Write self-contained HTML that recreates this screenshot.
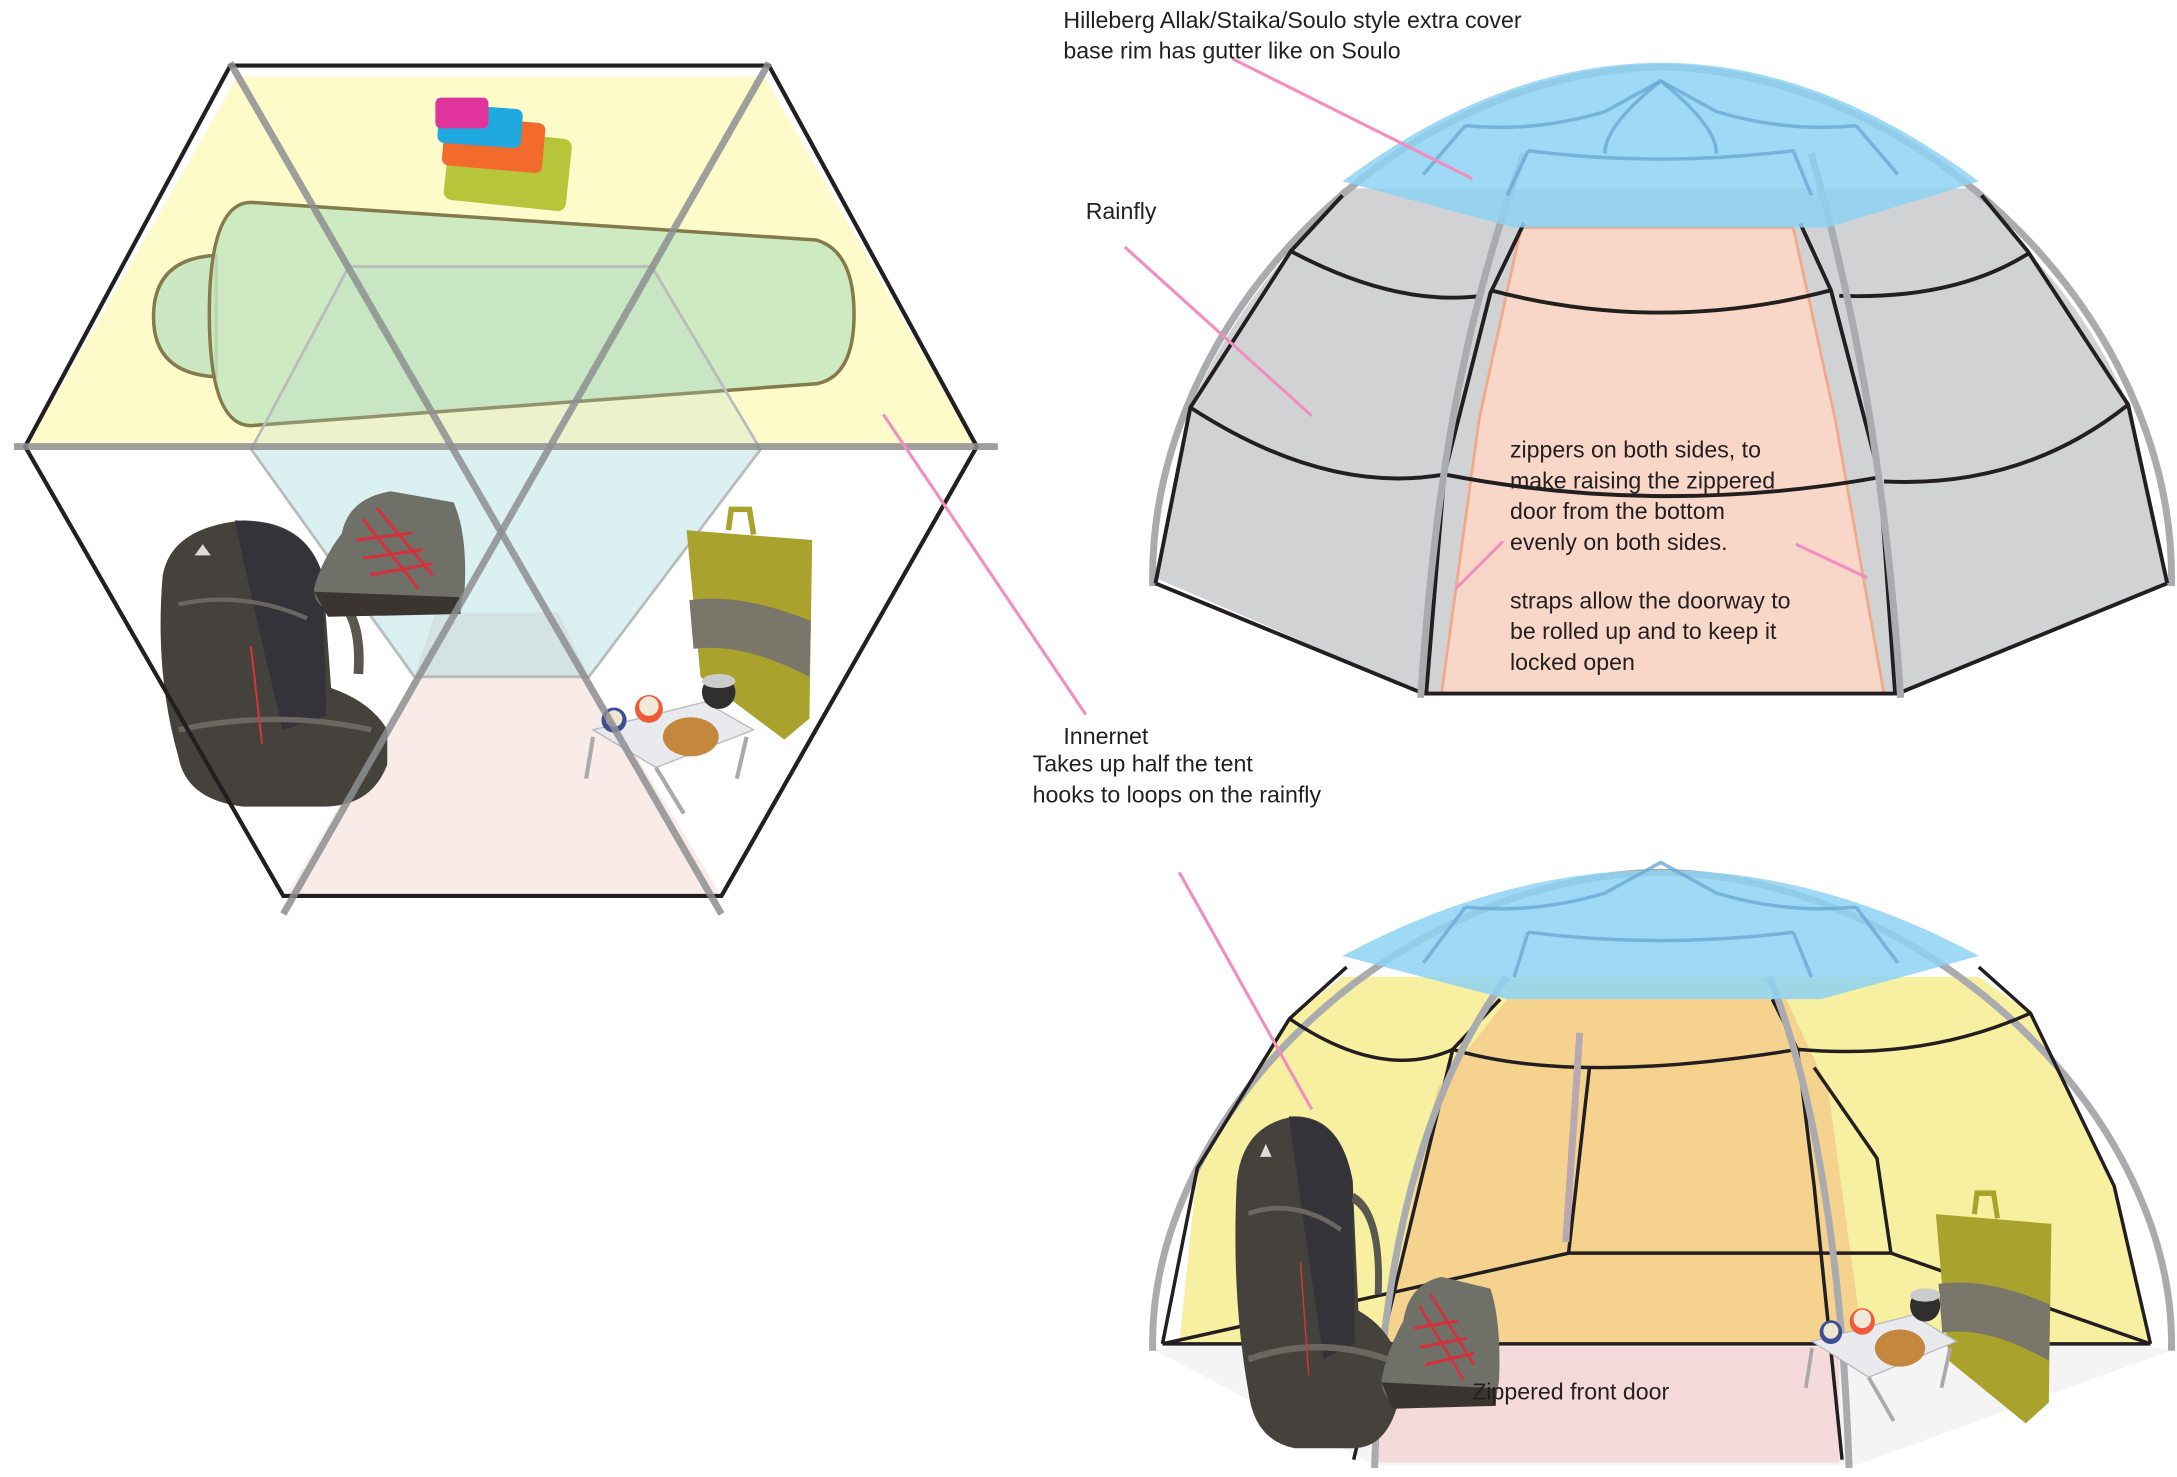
<!DOCTYPE html>
<html><head><meta charset="utf-8"><style>
html,body{margin:0;padding:0;background:#fff;}
svg{display:block;}
text{font-family:"Liberation Sans",sans-serif;font-size:16.6px;fill:#231f20;}
</style></head><body>
<svg width="2177" height="1477" viewBox="0 0 1560 1058.4" preserveAspectRatio="none" xmlns="http://www.w3.org/2000/svg">
<defs>
<g id="pack">
 <path d="M10,40 Q15,5 60,0 Q100,0 110,40 L115,120 Q140,130 150,150 L150,175 Q140,205 110,205 L60,205 Q25,200 20,170 Q5,110 10,40 Z" fill="#45423d"/>
 <path d="M55,0 Q100,0 110,40 L112,140 L85,150 Q70,80 55,0 Z" fill="#34333a"/>
 <path d="M20,60 Q60,50 100,70" stroke="#6a6660" stroke-width="3" fill="none"/>
 <path d="M20,150 Q80,135 140,150" stroke="#6a6660" stroke-width="4" fill="none"/>
 <path d="M110,50 Q135,60 132,110" stroke="#5a5650" stroke-width="6" fill="none"/>
 <path d="M65,90 L72,160" stroke="#d33" stroke-width="1.2"/>
 <path d="M30,25 l5,-8 l5,8 z" fill="#ddd"/>
</g>
<g id="boot">
 <path d="M20,30 Q25,5 55,0 L100,8 Q110,30 108,70 L105,85 L20,88 Q0,85 0,70 Q5,50 20,30 Z" fill="#6f7068"/>
 <path d="M0,72 L105,76 L105,88 L10,90 Z" fill="#3a3530"/>
 <path d="M35,20 L75,70 M45,12 L85,60 M30,35 L70,30 M35,48 L78,42 M40,60 L85,52" stroke="#d2323c" stroke-width="2.2" fill="none"/>
</g>
<g id="chair">
 <path d="M10,15 L100,22 L98,150 L80,165 L20,120 Z" fill="#a9a22d"/>
 <path d="M12,65 Q50,60 99,80 L98,120 Q50,95 15,100 Z" fill="#7b766a"/>
 <path d="M40,15 L42,0 L55,0 L58,18" stroke="#a9a22d" stroke-width="4" fill="none"/>
</g>
<g id="table">
 <path d="M15,35 L95,15 L130,35 L60,62 Z" fill="#e8eaed" stroke="#bbb" stroke-width="1"/>
 <path d="M15,40 L10,70 M60,62 L80,95 M125,40 L118,70" stroke="#aaa" stroke-width="3"/>
 <circle cx="30" cy="28" r="9" fill="#3b4e92"/><circle cx="30" cy="27" r="6" fill="#efe4cf"/>
 <circle cx="55" cy="20" r="10" fill="#f05a3a"/><circle cx="55" cy="18" r="7" fill="#f2ead8"/>
 <ellipse cx="85" cy="40" rx="20" ry="14" fill="#c3873e"/>
 <circle cx="105" cy="8" r="12" fill="#2f2f2f"/><ellipse cx="105" cy="0" rx="12" ry="5" fill="#ccc"/>
</g>
</defs>

<path d="M170,55 L548,55 L700,322 L18,322 Z" fill="#fefbcb"/>
<path d="M180,322 L545,322 L422,485 L297,485 Z" fill="#e6f7fd"/>
<path d="M312,439 L400,439 L422,485 L297,485 Z" fill="#dfe4e8"/>
<path d="M297,485 L422,485 L517,642 L205,642 Z" fill="#f9ece8"/>
<path d="M110,227 Q110,185 155,183 L155,270 Q110,268 110,227 Z" fill="#cbe8c2" stroke="#867a4c" stroke-width="2.5"/>
<path d="M180,145 L585,172 Q612,180 612,225 Q612,270 585,275 L180,305 Q150,305 150,225 Q150,145 180,145 Z" fill="#c6e6c0" fill-opacity="0.85" stroke="#867a4c" stroke-width="2.5"/>
<path d="M250,191 L467,191 L545,322 L422,485 L297,485 L180,322 Z" fill="#b8dcd0" fill-opacity="0.25" stroke="#b9bbbd" stroke-width="2"/>
<rect x="320" y="95" width="88" height="52" rx="6" fill="#b7c53b" transform="rotate(6 360 120)"/>
<rect x="318" y="85" width="72" height="36" rx="5" fill="#f26a2c" transform="rotate(5 350 100)"/>
<rect x="314" y="76" width="60" height="28" rx="5" fill="#1fa9df" transform="rotate(4 340 90)"/>
<rect x="312" y="70" width="38" height="22" rx="4" fill="#e0339b"/>
<use href="#pack" transform="translate(105,373) scale(1.15,1.0)"/>
<use href="#boot" transform="translate(225,352) scale(1.0,1.0)"/>
<use href="#chair" transform="translate(482,365)"/>
<use href="#table" transform="translate(410,488)"/>
<path d="M165,47 L551,47 L700,320 L517,642 L203,642 L18,320 Z" fill="none" stroke="#231f20" stroke-width="3"/>
<g stroke="#8d8e90" stroke-width="5" stroke-opacity="0.85">
<line x1="10" y1="320" x2="715" y2="320"/>
<line x1="165" y1="45" x2="517" y2="655"/>
<line x1="551" y1="45" x2="203" y2="655"/>
</g>

<path d="M830,415 L853,292 Q880,230 925,180 L962,135 L1418,135 L1453,180 Q1500,230 1525,290 L1553,418 L1360,497 L1020,497 Z" fill="#d1d2d4"/>
<path d="M1033,497 L1060,300 L1090,163 L1285,163 L1315,300 L1350,497 Z" fill="#f8d7c8" stroke="#f2a98a" stroke-width="2"/>
<path d="M826,420 C822,230 1000,52 1190,48 C1380,52 1560,230 1556,420" fill="none" stroke="#a9abae" stroke-width="5"/>
<g fill="none" stroke="#231f20" stroke-width="2.8">
<path d="M828,418 L853,292 L925,180 L962,140"/>
<path d="M828,418 L1020,497 L1360,497 L1553,418"/>
<path d="M1553,418 L1525,290 L1453,180 L1420,140"/>
<path d="M925,180 Q1000,220 1062,212"/>
<path d="M1068,208 Q1190,240 1312,208"/>
<path d="M1318,212 Q1400,215 1453,182"/>
<path d="M853,292 Q950,355 1035,340"/>
<path d="M1035,340 Q1190,370 1347,342"/>
<path d="M1350,345 Q1450,350 1525,290"/>
<path d="M1022,497 L1035,340 L1068,210 L1092,160"/>
<path d="M1358,497 L1347,342 L1312,208 L1290,160"/>
</g>
<g fill="none" stroke="#a9abae" stroke-width="5">
<path d="M1018,500 C1028,350 1048,230 1092,110"/>
<path d="M1362,500 C1352,350 1332,230 1298,110"/>
</g>
<path d="M962,130 Q1190,-40 1418,130 L1310,163 L1085,163 Z" fill="#8dd2f3" fill-opacity="0.85"/>
<g fill="none" stroke="#6aa9d3" stroke-width="2.5" stroke-opacity="0.8">
<path d="M1050,90 Q1100,95 1150,80 L1190,58 L1230,80 Q1280,95 1330,90"/>
<path d="M1050,90 L1020,125 M1330,90 L1360,125"/>
<path d="M1095,108 Q1190,120 1285,108 L1298,140 M1095,108 L1080,140"/>
<path d="M1190,58 Q1150,90 1150,110 M1190,58 Q1230,90 1230,110"/>
</g>

<path d="M828,968 L985,1050 L1330,1050 L1555,968 L1520,960 L855,960 Z" fill="#f4f4f5"/>
<path d="M845,963 L858,837 L924,730 L962,700 L1418,700 L1455,726 L1515,850 L1541,963 Z" fill="#f7f0a0"/>
<path d="M990,963 L1030,780 L1080,716 L1280,716 L1310,780 L1335,963 Z" fill="#f5d38f"/>
<path d="M985,965 L1318,965 L1318,1048 L985,1048 Z" fill="#f5dadb"/>
<path d="M826,968 C822,800 1000,628 1190,625 C1380,628 1560,800 1556,968" fill="none" stroke="#a9abae" stroke-width="5"/>
<g fill="none" stroke="#231f20" stroke-width="2.5">
<path d="M833,963 L858,837 L924,730 L965,693"/>
<path d="M1541,963 L1515,850 L1455,726 L1418,693"/>
<path d="M833,963 L1124,898 L1355,898 L1541,963 M833,963 L1541,963"/>
<path d="M1124,898 L1139,765"/>
<path d="M1355,898 L1345,830 L1300,765"/>
<path d="M924,730 Q990,775 1041,752"/>
<path d="M1041,752 Q1129,778 1288,752"/>
<path d="M1288,752 Q1380,760 1455,726"/>
<path d="M970,1046 L1041,752 L1075,716"/>
<path d="M1320,1046 L1300,850 L1288,752 L1270,716"/>
</g>
<g fill="none" stroke="#a9abae" stroke-width="5">
<path d="M985,1052 C990,900 1020,780 1080,700"/>
<path d="M1325,1052 C1320,900 1300,780 1268,700"/>
<path d="M1122,890 L1132,740" stroke="#b9a8b0"/>
</g>
<path d="M962,685 Q1190,562 1418,685 L1305,716 L1080,716 Z" fill="#8dd2f3" fill-opacity="0.85"/>
<g fill="none" stroke="#6aa9d3" stroke-width="2.5" stroke-opacity="0.8">
<path d="M1050,650 Q1100,655 1150,640 L1190,618 L1230,640 Q1280,655 1330,650"/>
<path d="M1095,668 Q1190,680 1285,668"/>
<path d="M1050,650 L1020,690 M1330,650 L1360,690 M1095,668 L1085,700 M1285,668 L1298,700"/>
</g>
<use href="#pack" transform="translate(878,800) scale(0.83,1.16)"/>
<use href="#boot" transform="translate(990,915) scale(0.78,1.05)"/>
<use href="#chair" transform="translate(1378,855) scale(0.92,1.0)"/>
<use href="#table" transform="translate(1285,928) scale(0.9,0.95)"/>

<g stroke="#f28dc0" stroke-width="2.2">
<line x1="883" y1="42" x2="1055" y2="128"/>
<line x1="806" y1="177" x2="940" y2="298"/>
<line x1="633" y1="297" x2="778" y2="512"/>
<line x1="1077" y1="388" x2="1043" y2="422"/>
<line x1="1287" y1="390" x2="1338" y2="414"/>
<line x1="845" y1="625" x2="940" y2="795"/>
</g>

<text x="762" y="20">Hilleberg Allak/Staika/Soulo style extra cover</text>
<text x="762" y="42">base rim has gutter like on Soulo</text>
<text x="778" y="157">Rainfly</text>
<text x="1082" y="328">zippers on both sides, to</text>
<text x="1082" y="350">make raising the zippered</text>
<text x="1082" y="372">door from the bottom</text>
<text x="1082" y="394">evenly on both sides.</text>
<text x="1082" y="436">straps allow the doorway to</text>
<text x="1082" y="458">be rolled up and to keep it</text>
<text x="1082" y="480">locked open</text>
<text x="762" y="533">Innernet</text>
<text x="740" y="553">Takes up half the tent</text>
<text x="740" y="575">hooks to loops on the rainfly</text>
<text x="1055" y="1003">Zippered front door</text>
</svg>
</body></html>
